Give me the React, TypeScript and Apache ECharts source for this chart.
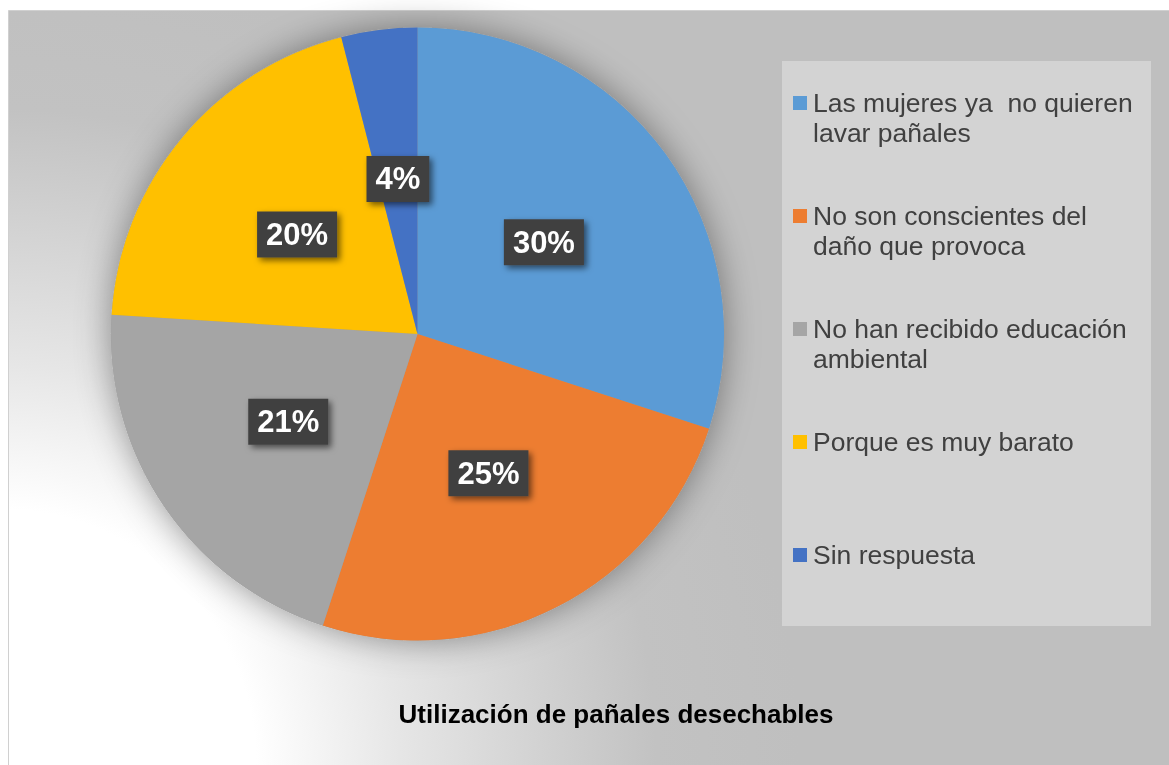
import React, { useEffect, useRef } from "react";
import * as echarts from "echarts";

const categories = [
  "Las mujeres ya  no quieren lavar pañales",
  "No son conscientes del daño que provoca",
  "No han recibido educación ambiental",
  "Porque es muy barato",
  "Sin respuesta",
];
const legendLabels = [
  "Las mujeres ya  no quieren\nlavar pañales",
  "No son conscientes del\ndaño que provoca",
  "No han recibido educación\nambiental",
  "Porque es muy barato",
  "Sin respuesta",
];
const values = [30, 25, 21, 20, 4];
const colors = ["#5B9BD5", "#ED7D31", "#A5A5A5", "#FFC000", "#4472C4"];
const chartTitle = "Utilización de pañales desechables";

const FONT = 'Arial, "Liberation Sans", sans-serif';

export default function App() {
  const ref = useRef<HTMLDivElement>(null);
  useEffect(() => {
    if (!ref.current) return;
    const chart = echarts.init(ref.current, null, { renderer: "svg" });
    const center = [417.5, 334];
    const radius = 306.5;

    const legendEls: any[] = [];
    legendLabels.forEach((label, i) => {
      const cy = 103 + i * 113;
      legendEls.push({
        type: "rect",
        z: 10,
        shape: { x: 793, y: cy - 7, width: 14, height: 14 },
        style: { fill: colors[i] },
      });
      legendEls.push({
        type: "text",
        z: 10,
        x: 813,
        y: cy - 15,
        style: {
          text: label,
          fill: "#404040",
          font: `26.5px ${FONT}`,
          lineHeight: 30,
          verticalAlign: "top",
          align: "left",
        },
      });
    });

    chart.setOption({
      animation: false,
      title: {
        text: chartTitle,
        left: 611,
        top: 696,
        textAlign: "center",
        textStyle: { fontFamily: FONT, fontSize: 26, fontWeight: "bold", color: "#000000" },
      },
      graphic: [
        {
          type: "rect",
          z: -10,
          shape: { x: 8.5, y: 10.5, width: 1300, height: 900 },
          style: {
            fill: new echarts.graphic.RadialGradient(0, 765, 800, [
              { offset: 0, color: "#ffffff" },
              { offset: 0.32, color: "#ffffff" },
              { offset: 0.5, color: "#e6e6e6" },
              { offset: 0.72, color: "#cdcdcd" },
              { offset: 0.82, color: "#c2c2c2" },
              { offset: 1, color: "#bfbfbf" },
            ], true),
            stroke: "#d0d0d0",
            lineWidth: 1,
          },
        },
        {
          type: "rect",
          z: -5,
          shape: { x: 782, y: 61, width: 369, height: 565 },
          style: { fill: "#d3d3d3" },
        },
        ...legendEls,
      ],
      series: [
        {
          type: "pie",
          silent: true,
          z: 1,
          center,
          radius,
          label: { show: false },
          labelLine: { show: false },
          itemStyle: {
            color: "#9a9a9a",
            shadowBlur: 35,
            shadowColor: "rgba(0,0,0,0.4)",
          },
          data: [{ value: 1, name: "shadow" }],
        },
        {
          type: "pie",
          z: 2,
          center,
          radius,
          startAngle: 90,
          clockwise: true,
          avoidLabelOverlap: false,
          label: {
            show: true,
            position: "inside",
            formatter: "{c}%",
            color: "#ffffff",
            fontFamily: FONT,
            fontWeight: "bold",
            fontSize: 31,
            lineHeight: 34,
            backgroundColor: "#404040",
            padding: [6, 9],
            shadowColor: "rgba(0,0,0,0.55)",
            shadowBlur: 6,
            shadowOffsetX: 3,
            shadowOffsetY: 3,
          },
          labelLine: { show: false },
          itemStyle: { borderWidth: 0 },
          data: categories.map((name, i) => ({
            name,
            value: values[i],
            itemStyle: { color: colors[i] },
          })),
        },
      ],
    });
    return () => chart.dispose();
  }, []);
  return (
    <div
      ref={ref}
      style={{ position: "fixed", left: 0, top: 0, width: 1169, height: 765 }}
    />
  );
}
